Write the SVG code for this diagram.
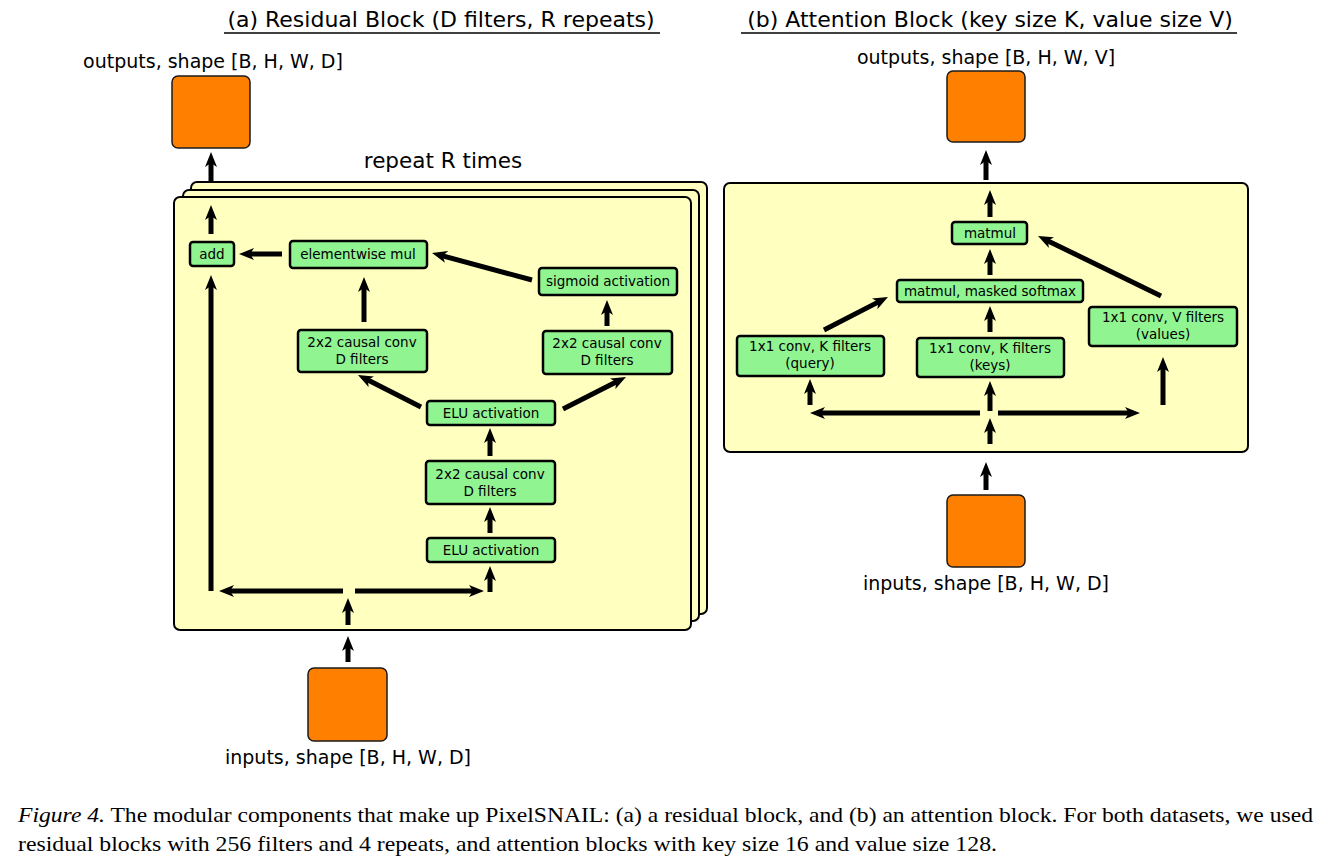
<svg xmlns="http://www.w3.org/2000/svg" width="1329" height="867" viewBox="0 0 1329 867">
<style>
.t{font-family:"DejaVu Sans","Liberation Sans",sans-serif;fill:#000;text-anchor:middle}
.title{font-size:22px}
.rep{font-size:21.5px}
.lbl{font-size:19px}
.nt{font-size:13.5px}
.panel{fill:#FFFFC0;stroke:#000;stroke-width:2}
.node{fill:#90F490;stroke:#000;stroke-width:2.5}
.io{fill:#FF8000;stroke:#1a1a1a;stroke-width:1.5}
.cap{font-family:"Liberation Serif","Times New Roman",serif;font-size:21px;fill:#000}
#connectors path{stroke:#000;stroke-width:5;fill:none;marker-end:url(#ah)}
</style>
<defs>
<marker id="ah" viewBox="0 0 15 12" markerWidth="15" markerHeight="12" refX="5" refY="6" orient="auto" markerUnits="userSpaceOnUse">
<path d="M0,0 L15,6 L0,12 L4,6 Z" fill="#000"/>
</marker>
</defs>
<rect width="1329" height="867" fill="#fff"/>

<!-- titles -->
<g id="titleA">
<text class="t title" x="441" y="27">(a) Residual Block (D filters, R repeats)</text>
<line x1="224" y1="33" x2="660" y2="33" stroke="#000" stroke-width="1.5"/>
</g>
<g id="titleB">
<text class="t title" x="990" y="27">(b) Attention Block (key size K, value size V)</text>
<line x1="741" y1="33" x2="1237" y2="33" stroke="#000" stroke-width="1.5"/>
</g>

<!-- Residual block -->
<g id="res-output">
<text class="t lbl" x="213" y="68">outputs, shape [B, H, W, D]</text>
<rect class="io" x="172" y="76" width="78" height="72" rx="6"/>
</g>
<text class="t rep" x="443" y="168">repeat R times</text>
<g id="res-panel">
<rect class="panel" x="191" y="182" width="516" height="432" rx="6"/>
<rect class="panel" x="183" y="190" width="516" height="431" rx="6"/>
<rect class="panel" x="174" y="197" width="517" height="433" rx="6"/>
</g>
<g id="n-add"><rect class="node" x="190" y="242" width="44" height="24" rx="3"/><text class="t nt" x="212" y="259">add</text></g>
<g id="n-mul"><rect class="node" x="290" y="241" width="137" height="27" rx="3"/><text class="t nt" x="358" y="259">elementwise mul</text></g>
<g id="n-sig"><rect class="node" x="539" y="268" width="138" height="27" rx="3"/><text class="t nt" x="608" y="286">sigmoid activation</text></g>
<g id="n-convL"><rect class="node" x="298" y="330" width="129" height="42" rx="3"/><text class="t nt" x="362" y="347">2x2 causal conv</text><text class="t nt" x="362" y="364">D filters</text></g>
<g id="n-convR"><rect class="node" x="543" y="331" width="129" height="43" rx="3"/><text class="t nt" x="607" y="348">2x2 causal conv</text><text class="t nt" x="607" y="365">D filters</text></g>
<g id="n-elu2"><rect class="node" x="427" y="401" width="128" height="24" rx="3"/><text class="t nt" x="491" y="418">ELU activation</text></g>
<g id="n-conv1"><rect class="node" x="426" y="461" width="129" height="43" rx="3"/><text class="t nt" x="490" y="479">2x2 causal conv</text><text class="t nt" x="490" y="496">D filters</text></g>
<g id="n-elu1"><rect class="node" x="427" y="538" width="128" height="24" rx="3"/><text class="t nt" x="491" y="555">ELU activation</text></g>
<g id="res-input">
<rect class="io" x="308" y="668" width="79" height="73" rx="6"/>
<text class="t lbl" x="348" y="764">inputs, shape [B, H, W, D]</text>
</g>

<!-- Attention block -->
<g id="att-output">
<text class="t lbl" x="986" y="64">outputs, shape [B, H, W, V]</text>
<rect class="io" x="947" y="71" width="78" height="71" rx="6"/>
</g>
<g id="att-panel"><rect class="panel" x="724" y="183" width="524" height="269" rx="6"/></g>
<g id="n-matmul"><rect class="node" x="952" y="222" width="75" height="22" rx="3"/><text class="t nt" x="990" y="238">matmul</text></g>
<g id="n-softmax"><rect class="node" x="897" y="280" width="186" height="22" rx="3"/><text class="t nt" x="990" y="296">matmul, masked softmax</text></g>
<g id="n-query"><rect class="node" x="737" y="336" width="147" height="40" rx="3"/><text class="t nt" x="810" y="351">1x1 conv, K filters</text><text class="t nt" x="810" y="368">(query)</text></g>
<g id="n-keys"><rect class="node" x="917" y="338" width="147" height="39" rx="3"/><text class="t nt" x="990" y="353">1x1 conv, K filters</text><text class="t nt" x="990" y="370">(keys)</text></g>
<g id="n-values"><rect class="node" x="1089" y="307" width="148" height="39" rx="3"/><text class="t nt" x="1163" y="322">1x1 conv, V filters</text><text class="t nt" x="1163" y="339">(values)</text></g>
<g id="att-input">
<rect class="io" x="947" y="495" width="78" height="72" rx="6"/>
<text class="t lbl" x="986" y="590">inputs, shape [B, H, W, D]</text>
</g>

<g id="connectors">
<path d="M211,181 L211,162"/>
<path d="M211,234 L211,215"/>
<path d="M211,591 L211,285"/>
<path d="M343,591 L229,591"/>
<path d="M355,591 L474,591"/>
<path d="M490,592 L490,576"/>
<path d="M348,625 L348,608"/>
<path d="M490,533 L490,517"/>
<path d="M490,456 L490,438"/>
<path d="M421,407 L366.9,379.5"/>
<path d="M563,409 L617.1,381.5"/>
<path d="M364,322 L364,287"/>
<path d="M607,326 L607,310"/>
<path d="M532,280 L441.7,255.6"/>
<path d="M282,254 L249,254"/>
<path d="M348,662 L348,646"/>

<path d="M986,180 L986,160"/>
<path d="M990,217 L990,200"/>
<path d="M990,275 L990,259"/>
<path d="M990,332 L990,316"/>
<path d="M990,411 L990,391"/>
<path d="M990,444 L990,428"/>
<path d="M980,413 L820,413"/>
<path d="M998,413 L1130,413"/>
<path d="M810,405 L810,389"/>
<path d="M1163,405 L1163,367"/>
<path d="M824,330 L879.1,301.6"/>
<path d="M1161,296 L1047,240.4"/>
<path d="M986,490 L986,472"/>
</g>

<g id="caption">
<text class="cap" x="18" y="822" textLength="1295" lengthAdjust="spacingAndGlyphs"><tspan font-style="italic">Figure 4.</tspan> The modular components that make up PixelSNAIL: (a) a residual block, and (b) an attention block. For both datasets, we used</text>
<text class="cap" x="18" y="851" textLength="979" lengthAdjust="spacingAndGlyphs">residual blocks with 256 filters and 4 repeats, and attention blocks with key size 16 and value size 128.</text>
</g>
</svg>
